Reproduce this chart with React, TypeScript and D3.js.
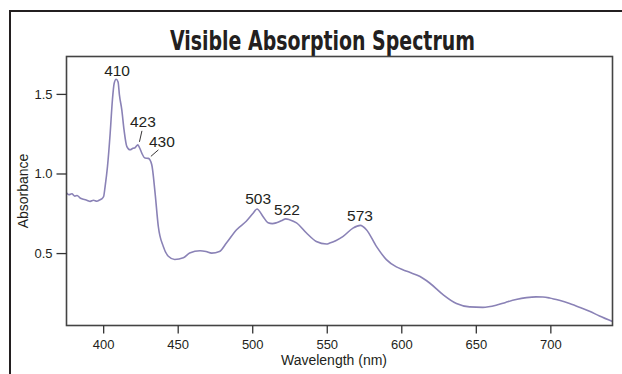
import React, { useEffect, useRef } from 'react';
import * as d3 from 'd3';

// spectrum (nm, absorbance)
const wavelengths = [
  375.5, 377, 379, 381, 382.5, 384.5, 386.8, 389, 391.3, 393.5, 395.8, 397.5, 399, 400.3,
  401.3, 402.9, 404.7, 406.2, 407.4, 408.7, 410, 410.9, 412.5, 414, 415.9, 418, 420, 421.4,
  423.3, 424.5, 425.9, 428, 430.3, 432.6, 434.8, 437, 440.4, 443.7, 448, 453.8, 458, 465,
  469, 472.8, 478, 482.8, 489.5, 496, 500.6, 503.2, 507.2, 510.6, 513.5, 516.2, 520, 522.5,
  525, 529.7, 536.4, 543, 549.8, 552, 556, 561, 567.6, 572.5, 576.6, 583.3, 590, 596.7,
  601, 605.6, 612.3, 619, 628, 637, 645.8, 654.7, 663.6, 670, 677, 684, 690.4, 695, 699.5,
  706, 712.9, 720, 726.3, 733, 741.7,
];
const absorbance = [
  0.877, 0.866, 0.873, 0.858, 0.862, 0.846, 0.838, 0.832, 0.825, 0.832, 0.826, 0.833, 0.84, 0.855,
  0.918, 1.044, 1.253, 1.462, 1.567, 1.592, 1.575, 1.494, 1.4, 1.274, 1.169, 1.149, 1.158, 1.162,
  1.18, 1.16, 1.128, 1.097, 1.095, 1.055, 0.88, 0.667, 0.54, 0.48, 0.46, 0.47, 0.5, 0.515,
  0.51, 0.5, 0.51, 0.565, 0.647, 0.7, 0.75, 0.777, 0.73, 0.69, 0.685, 0.69, 0.705, 0.715,
  0.71, 0.69, 0.626, 0.573, 0.557, 0.563, 0.578, 0.605, 0.657, 0.674, 0.647, 0.542, 0.459, 0.413,
  0.395, 0.379, 0.354, 0.312, 0.239, 0.183, 0.162, 0.159, 0.172, 0.19, 0.208, 0.22, 0.225, 0.224, 0.218,
  0.203, 0.183, 0.158, 0.134, 0.105, 0.07,
];

const peakNm = [410, 423, 430, 503, 522, 573];
const peakAbs = [1.592, 1.18, 1.095, 0.777, 0.715, 0.674];

const xTicks = [400, 450, 500, 550, 600, 650, 700];
const yTicks = [0.5, 1.0, 1.5];

const X_DOMAIN: [number, number] = [375.4, 741.7];
const Y_DOMAIN: [number, number] = [0.045, 1.735];

// label placement relative to the peak point
const labelStyle: Record<number, { dx: number; dy: number; leader?: [number, number, number, number] }> = {
  410: { dx: -1, dy: -3 },
  423: { dx: 5.5, dy: -18, leader: [4.5, -14, 2, -3] },
  430: { dx: 14, dy: -11.5, leader: [10.5, -8.5, 3, -2] },
  503: { dx: 1.5, dy: -5 },
  522: { dx: 2, dy: -3.5 },
  573: { dx: -1, dy: -4 },
};

const W = 622;
const H = 374;
const plot = { left: 66.5, right: 612.5, top: 56.5, bottom: 325.5 };
const INK = '#231f20';
const LINE = '#8a82b6';
const SANS = '"Liberation Sans", Arial, Helvetica, sans-serif';

export default function App() {
  const svgRef = useRef<SVGSVGElement>(null);

  useEffect(() => {
    if (!svgRef.current) return;
    const svg = d3.select(svgRef.current);
    svg.selectAll('*').remove();

    const x = d3.scaleLinear().domain(X_DOMAIN).range([plot.left, plot.right]);
    const y = d3.scaleLinear().domain(Y_DOMAIN).range([plot.bottom, plot.top]);

    svg.append('rect').attr('width', W).attr('height', H).attr('fill', '#fff');

    // outer frame, only its top and left edges are inside the picture
    svg.append('rect')
      .attr('x', 10).attr('y', 11).attr('width', 700).attr('height', 420)
      .attr('fill', 'none').attr('stroke', INK).attr('stroke-width', 2);

    svg.append('text')
      .attr('x', 322.5).attr('y', 50)
      .attr('text-anchor', 'middle')
      .attr('font-family', '"Liberation Sans Narrow", "DejaVu Sans Condensed", Arial, sans-serif')
      .attr('font-weight', 'bold')
      .attr('font-size', 26)
      .attr('textLength', 305)
      .attr('lengthAdjust', 'spacingAndGlyphs')
      .attr('fill', INK)
      .text('Visible Absorption Spectrum');

    const data = wavelengths.map((w, i) => [w, absorbance[i]] as [number, number]);
    const line = d3.line<[number, number]>()
      .x(d => x(d[0]))
      .y(d => y(d[1]))
      .curve(d3.curveMonotoneX);

    svg.append('path')
      .datum(data)
      .attr('d', line)
      .attr('fill', 'none')
      .attr('stroke', LINE)
      .attr('stroke-width', 1.6)
      .attr('stroke-linejoin', 'round');

    svg.append('rect')
      .attr('x', plot.left).attr('y', plot.top)
      .attr('width', plot.right - plot.left).attr('height', plot.bottom - plot.top)
      .attr('fill', 'none').attr('stroke', '#444').attr('stroke-width', 1.6);

    const xAxis = svg.append('g')
      .attr('transform', `translate(0,${plot.bottom})`)
      .call(d3.axisBottom(x).tickValues(xTicks).tickSize(8).tickPadding(6).tickFormat(d3.format('d')));
    const yAxis = svg.append('g')
      .attr('transform', `translate(${plot.left},0)`)
      .call(d3.axisLeft(y).tickValues(yTicks).tickSize(10).tickPadding(4).tickFormat(d3.format('.1f')));

    [xAxis, yAxis].forEach(a => {
      a.select('.domain').remove();
      a.selectAll('line').attr('stroke', '#333').attr('stroke-width', 1.3);
      a.selectAll('text').attr('font-family', SANS).attr('font-size', 13).attr('fill', INK);
    });

    svg.append('text')
      .attr('x', 334).attr('y', 365)
      .attr('text-anchor', 'middle')
      .attr('font-family', SANS).attr('font-size', 14).attr('fill', INK)
      .text('Wavelength (nm)');

    svg.append('text')
      .attr('transform', 'translate(28,191) rotate(-90)')
      .attr('text-anchor', 'middle')
      .attr('font-family', SANS).attr('font-size', 14).attr('fill', INK)
      .text('Absorbance');

    // peak labels
    const labels = svg.append('g');
    peakNm.forEach((nm, i) => {
      const px = x(nm);
      const py = y(peakAbs[i]);
      const s = labelStyle[nm];
      labels.append('text')
        .attr('x', px + s.dx).attr('y', py + s.dy)
        .attr('text-anchor', 'middle')
        .attr('font-family', SANS).attr('font-size', 15.5).attr('fill', INK)
        .text(String(nm));
      if (s.leader) {
        labels.append('line')
          .attr('x1', px + s.leader[0]).attr('y1', py + s.leader[1])
          .attr('x2', px + s.leader[2]).attr('y2', py + s.leader[3])
          .attr('stroke', INK).attr('stroke-width', 0.9);
      }
    });
  }, []);

  return (
    <svg
      ref={svgRef}
      width={W}
      height={H}
      style={{ position: 'absolute', left: 0, top: 0, display: 'block' }}
    />
  );
}
